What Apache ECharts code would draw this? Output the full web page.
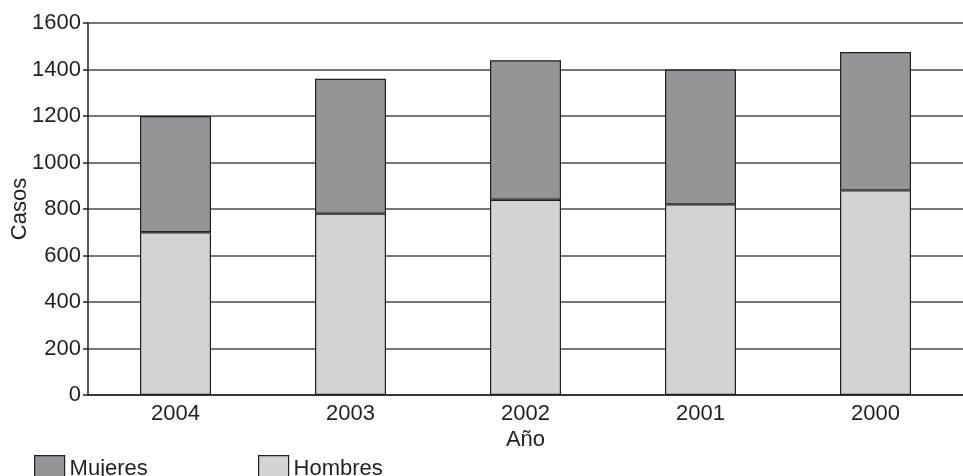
<!DOCTYPE html>
<html>
<head>
<meta charset="utf-8">
<script src="https://cdn.jsdelivr.net/npm/echarts@6/dist/echarts.min.js"></script>
<style>
  html, body { margin: 0; padding: 0; background: #fff; }
  #chart { width: 963px; height: 476px; }
</style>
</head>
<body>
<div id="chart"></div>
<script>
const years = ["2004", "2003", "2002", "2001", "2000"];
const hombres = [700, 780, 840, 820, 880];
const mujeres = [500, 580, 600, 580, 595];
const yTicks = [0, 200, 400, 600, 800, 1000, 1200, 1400, 1600];

const font = "Liberation Sans, Arial, sans-serif";
const ink = "#231f20";

const chart = echarts.init(document.getElementById("chart"), null, { renderer: "canvas" });

const legendText = { fontFamily: font, fontSize: 22, color: ink, padding: [4, 0, 0, 0] };

chart.setOption({
  animation: false,
  grid: { left: 88, right: 0, top: 23, bottom: 81, containLabel: false, outerBoundsMode: "none" },
  legend: [
    {
      left: 29, top: 450, icon: "rect", itemWidth: 30, itemHeight: 27, itemGap: 0,
      itemStyle: { borderColor: ink, borderWidth: 1.2 },
      textStyle: legendText, data: ["Mujeres"]
    },
    {
      left: 253, top: 450, icon: "rect", itemWidth: 30, itemHeight: 27, itemGap: 0,
      itemStyle: { borderColor: ink, borderWidth: 1.2 },
      textStyle: legendText, data: ["Hombres"]
    }
  ],
  xAxis: {
    type: "category",
    data: years,
    name: "Año",
    nameLocation: "middle",
    nameGap: 34,
    nameMoveOverlap: false,
    nameTextStyle: { fontFamily: font, fontSize: 22, color: ink },
    axisLine: { lineStyle: { color: ink, width: 1.5 } },
    axisTick: { show: false },
    axisLabel: { fontFamily: font, fontSize: 22, color: ink, margin: 8 }
  },
  yAxis: {
    type: "value",
    min: yTicks[0],
    max: yTicks[yTicks.length - 1],
    interval: 200,
    name: "Casos",
    nameLocation: "middle",
    nameGap: 57,
    nameMoveOverlap: false,
    nameTextStyle: { fontFamily: font, fontSize: 22, color: ink },
    axisLine: { show: true, lineStyle: { color: ink, width: 1.5 } },
    axisTick: { show: true, length: 5, lineStyle: { color: ink, width: 1.5 } },
    axisLabel: { fontFamily: font, fontSize: 22, color: ink, margin: 7, formatter: (v) => String(v) },
    splitLine: { show: true, lineStyle: { color: "#4a4a4a", width: 1.5 } }
  },
  series: [
    {
      name: "Hombres",
      type: "bar",
      stack: "total",
      barWidth: 71,
      data: hombres,
      itemStyle: { color: "#d1d3d4", borderColor: ink, borderWidth: 1.2 }
    },
    {
      name: "Mujeres",
      type: "bar",
      stack: "total",
      barWidth: 71,
      data: mujeres,
      itemStyle: { color: "#939598", borderColor: ink, borderWidth: 1.2 }
    }
  ]
});
</script>
</body>
</html>
